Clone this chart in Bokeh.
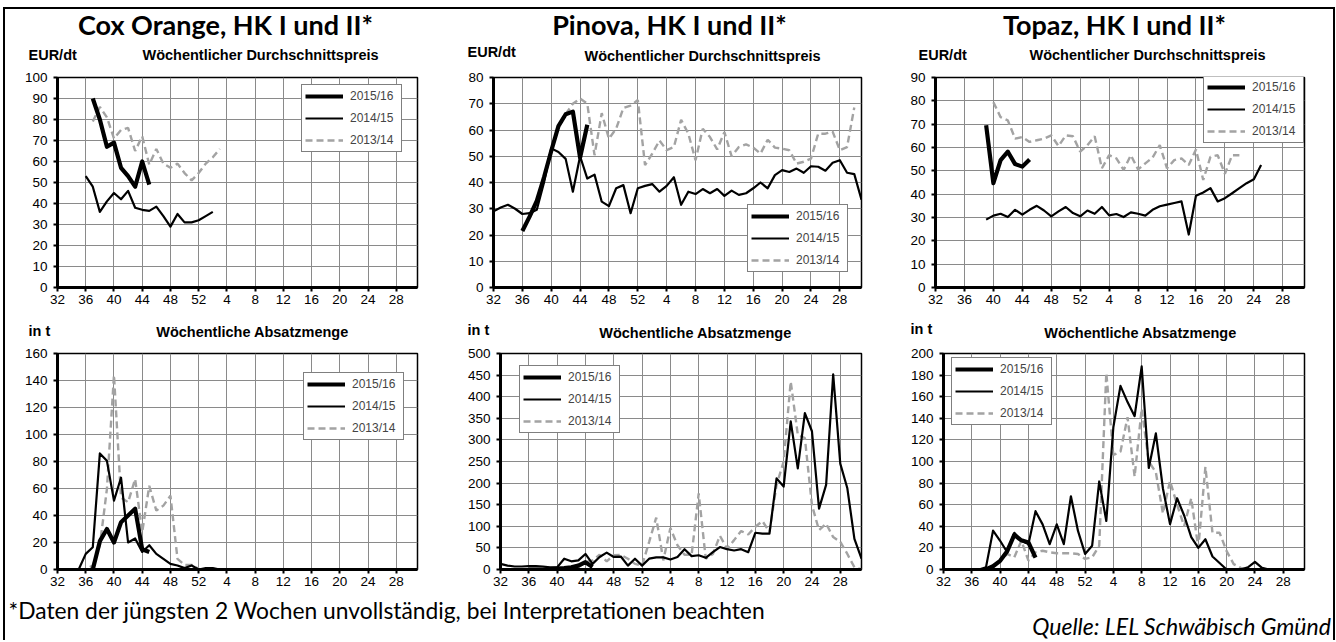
from bokeh.plotting import figure
from bokeh.models import FixedTicker, Range1d, Label, Legend, LegendItem, Spacer
from bokeh.layouts import row, column
from bokeh.embed import file_html
from bokeh.resources import INLINE

# ---------------- data ----------------
# season weeks: 32..52 of the first year, then 1..31 of the next year
SEASON_WEEKS = list(range(32, 53)) + list(range(1, 32))
X_TICK_WEEKS = [32, 36, 40, 44, 48, 52, 4, 8, 12, 16, 20, 24, 28]
SERIES_NAMES = ["2015/16", "2014/15", "2013/14"]

# Cox Orange - weekly average price (EUR/dt)
cox_price_1516_start = 37
cox_price_1516 = [90, 80, 67, 69, 57, 53, 48, 60, 49]
cox_price_1415_start = 36
cox_price_1415 = [53, 48, 36, 41, 45, 42, 46, 38, 37, 36.5, 38.5, 34, 29, 35, 31, 31, 32, 34, 36]
cox_price_1314_start = 37
cox_price_1314 = [79, 86, 81, 71, 75, 76, 65, 72, 58.5, 66, 59, 57, 59, 54.5, 51, 54.5, 59, 62, 66]

# Pinova - weekly average price
pin_price_1516_start = 36
pin_price_1516 = [21.5, 27, 33, 42, 52, 61.5, 66, 67, 49.5, 62]
pin_price_1415_start = 32
pin_price_1415 = [29, 30.5, 31.5, 30, 28, 28.3, 29.6, 40, 53, 51.6, 49, 36.5, 50, 41.5, 43, 32.7,
                  31, 37.8, 39, 28.3, 37.8, 38.7, 39.4, 36.5, 38.7, 42, 31.5, 36.5, 35.6, 37.5,
                  35.9, 37.5, 34.9, 36.9, 35.3, 35.9, 37.8, 40, 37.8, 42.8, 44.7, 44, 45.3, 43.7,
                  46.2, 46, 44.5, 47.5, 48.5, 43.7, 43.2, 33.4]
pin_price_1314_start = 42
pin_price_1314 = [66, 70, 72, 70, 50.4, 66.4, 56.7, 60.5, 68.4, 69.3, 71.4, 46.6, 51, 56, 52.3,
                  53.5, 63.9, 58.6, 48.5, 60.5, 57.3, 52.6, 59.2, 50, 53.5, 54.5, 53.3, 51, 56.3,
                  53.3, 52.9, 52.3, 47.2, 47.9, 49.1, 58.6, 58.6, 59.4, 52.3, 53.5, 68.6]

# Topaz - weekly average price
top_price_1516_start = 39
top_price_1516 = [69.5, 44.7, 54.6, 58.2, 52.9, 51.8, 54.9]
top_price_1415_start = 39
top_price_1415 = [29.1, 30.8, 31.6, 30.2, 33.3, 31.2, 33.3, 35, 33, 30.5, 32.6, 34.5, 31.9, 30.5,
                  33, 31.6, 34.5, 30.9, 31.5, 30.2, 32.2, 31.6, 30.8, 33.3, 34.8, 35.5, 36.2,
                  36.9, 22.7, 39.3, 40.7, 42.6, 36.9, 38.3, 40.4, 42.6, 44.7, 46.4, 52.5]
top_price_1314_start = 40
top_price_1314 = [79.4, 73, 71.6, 63.8, 64.5, 62.4, 63.1, 63.8, 65.2, 60.6, 65.2, 64.8, 58.2, 61,
                  64.8, 51.1, 56.7, 55.3, 50.4, 56.7, 50.6, 53.2, 55.7, 61, 51.1, 54.6, 55.3,
                  52.5, 59.1, 46.1, 56, 56.7, 48.7, 56.7, 56.7]

# Cox Orange - weekly sales (t)
cox_qty_1516_start = 37
cox_qty_1516 = [0, 21, 30, 20, 35, 40, 45, 15, 13]
cox_qty_1415_start = 32
cox_qty_1415 = [0, 0, 0, 0, 11.6, 16.5, 86, 80.5, 51, 68, 20, 23, 13, 18, 11.6, 7.9, 4.2, 3, 1, 3,
                0, 1, 1, 0, 0, 0, 0, 0, 0, 0, 0, 0, 0, 0, 0, 0, 0, 0, 0, 0, 0, 0, 0, 0, 0, 0,
                0, 0, 0, 0, 0, 0]
cox_qty_1314_start = 32
cox_qty_1314 = [0, 0, 0, 0, 0, 3, 17.7, 59.6, 144, 53.4, 49.8, 67, 27.6, 62, 43.6, 47.3, 54.7,
                7.9, 3.4, 3.4, 0.5, 0, 0, 0, 0, 0, 0, 0, 0, 0, 0, 0, 0, 0, 0, 0, 0, 0, 0, 0, 0,
                0, 0, 0, 0, 0, 0, 0, 0, 0, 0, 0]

# Pinova - weekly sales
pin_qty_1516_start = 36
pin_qty_1516 = [0, 0, 0, 1, 2, 3, 5, 9, 17, 6]
pin_qty_1415_start = 32
pin_qty_1415 = [13, 9, 7, 7, 8, 8, 7, 5, 5, 25, 19, 21, 36, 13, 29, 39, 29, 30, 9, 25, 9, 25, 28,
                28, 23, 29, 47, 31, 33, 27, 40, 52, 47, 44, 47, 40, 85, 83, 83, 211, 192, 343,
                234, 362, 320, 141, 196, 452, 245, 188, 71, 25]
pin_qty_1314_start = 32
pin_qty_1314 = [0, 0, 0, 0, 0, 0, 0, 0, 0, 0, 2, 5, 17, 21, 34, 19, 33, 34, 25, 13, 9, 64, 120,
                21, 96, 56, 34, 34, 176, 25, 36, 78, 48, 68, 89, 81, 99, 112, 87, 196, 250, 435,
                312, 304, 149, 91, 106, 75, 64, 36, 5, 0]

# Topaz - weekly sales
top_qty_1516_start = 38
top_qty_1516 = [0, 3, 8, 17, 32, 27, 25, 11]
top_qty_1415_start = 32
top_qty_1415 = [0, 0, 0, 0, 0, 0, 2, 36, 26.6, 16, 34, 26.6, 23.5, 54, 41.8, 23.5, 41.8, 23.5,
                67.8, 35.7, 14.4, 22, 81.5, 44.9, 132, 170, 155, 142, 188, 94, 126, 75, 42, 66,
                50, 30, 20, 28, 12, 6, 0, 0, 0, 2, 7, 1.5, 0, 0, 0, 0, 0, 0]
top_qty_1314_start = 32
top_qty_1314 = [0, 0, 0, 0, 0, 0, 0, 2.7, 8.2, 14.4, 11.3, 26.6, 8.2, 15.9, 17.4, 15.9, 15, 15,
                15, 14.4, 9.8, 11.3, 22, 182, 106, 109, 141, 86, 149, 100, 90, 52, 82, 60, 40,
                66, 20, 95, 34, 34, 17, 5, 1.5, 0, 0, 0, 0, 0, 0, 0, 0, 0]

# ---------------- helpers ----------------
def week_pos(w):
    """position on the season axis (week 1 of next year follows week 52)"""
    return w if w >= 32 else w + 52


def xs_for(start_week, values):
    i0 = SEASON_WEEKS.index(start_week)
    return [week_pos(w) for w in SEASON_WEEKS[i0:i0 + len(values)]]


X_TICKS = [week_pos(w) for w in X_TICK_WEEKS]
X_LABELS = {week_pos(w): str(w) for w in X_TICK_WEEKS}

AXIS_FONT = "Liberation Sans"
TITLE_FONT = "Lato"
GRID = "#8a8a8a"
GRAY = "#a3a3a3"


def panel(width, height, bl, br, bt, bb, ymax, ystep, series, legend_xy):
    p = figure(width=width, height=height, x_range=Range1d(32, 83), y_range=Range1d(0, ymax),
               output_backend="svg", toolbar_location=None,
               min_border_left=bl, min_border_right=br, min_border_top=bt, min_border_bottom=bb)
    p.background_fill_color = "white"
    p.border_fill_color = "white"
    p.outline_line_color = "black"
    p.outline_line_width = 1.5

    yt = list(range(0, ymax + 1, ystep))
    p.xaxis.ticker = FixedTicker(ticks=X_TICKS)
    p.xaxis.major_label_overrides = X_LABELS
    p.yaxis.ticker = FixedTicker(ticks=yt)
    p.xgrid.ticker = FixedTicker(ticks=X_TICKS)
    p.ygrid.ticker = FixedTicker(ticks=yt)
    p.grid.grid_line_color = GRID
    p.grid.grid_line_width = 1

    for ax in (p.xaxis[0], p.yaxis[0]):
        ax.axis_line_color = "black"
        ax.axis_line_width = 3
        ax.major_tick_line_color = "black"
        ax.major_tick_line_width = 2
        ax.major_tick_in = 0
        ax.major_tick_out = 4
        ax.minor_tick_line_color = None
        ax.major_label_text_font = AXIS_FONT
        ax.major_label_text_font_size = "13.5px"
        ax.major_label_text_color = "black"
    p.xaxis.major_label_standoff = 3
    p.yaxis.major_label_standoff = 6

    (s16, v16), (s15, v15), (s14, v14) = series
    r14 = p.line(xs_for(s14, v14), v14, line_color=GRAY, line_width=2.4, line_dash="7 4")
    r15 = p.line(xs_for(s15, v15), v15, line_color="black", line_width=2.2, line_join="round")
    r16 = p.line(xs_for(s16, v16), v16, line_color="black", line_width=4.2, line_join="round")

    legend = Legend(items=[LegendItem(label=SERIES_NAMES[0], renderers=[r16]),
                           LegendItem(label=SERIES_NAMES[1], renderers=[r15]),
                           LegendItem(label=SERIES_NAMES[2], renderers=[r14])],
                    location=legend_xy)
    legend.border_line_color = "black"
    legend.border_line_width = 1.2
    legend.background_fill_color = "white"
    legend.background_fill_alpha = 1
    legend.label_text_font = AXIS_FONT
    legend.label_text_font_size = "12px"
    legend.glyph_width = 38
    legend.glyph_height = 16
    legend.label_height = 16
    legend.label_width = 48
    legend.label_standoff = 7
    legend.spacing = 6
    legend.padding = 3
    legend.margin = 0
    p.add_layout(legend)
    return p


def text_strip(width, height, texts):
    f = figure(width=width, height=height, x_range=Range1d(0, 1), y_range=Range1d(0, 1),
               x_axis_type=None, y_axis_type=None, output_backend="svg",
               toolbar_location=None, min_border=0)
    f.grid.visible = False
    f.outline_line_color = None
    f.border_fill_color = "white"
    for (txt, sx, sy, size, font, style, align) in texts:
        f.add_layout(Label(x=sx, y=sy, x_units="screen", y_units="screen", text=txt,
                           text_font=font, text_font_size=size, text_font_style=style,
                           text_align=align, text_baseline="middle", text_color="black"))
    return f


P_UNIT = "EUR/dt"
P_SUB = "Wöchentlicher Durchschnittspreis"
Q_UNIT = "in t"
Q_SUB = "Wöchentliche Absatzmenge"
B = "bold"
TS = "27px"
LS = "14.5px"

head_top = text_strip(1328, 58, [
    ("Cox Orange, HK I und II*", 220, 43.5, TS, TITLE_FONT, B, "center"),
    ("Pinova, HK I und II*", 664, 43.5, TS, TITLE_FONT, B, "center"),
    ("Topaz, HK I und II*", 1109, 43.5, TS, TITLE_FONT, B, "center"),
    (P_UNIT, 23, 12.5, LS, AXIS_FONT, B, "left"),
    (P_UNIT, 462, 15.5, LS, AXIS_FONT, B, "left"),
    (P_UNIT, 913, 12.5, LS, AXIS_FONT, B, "left"),
    (P_SUB, 255, 12.5, LS, AXIS_FONT, B, "center"),
    (P_SUB, 697, 12, LS, AXIS_FONT, B, "center"),
    (P_SUB, 1142, 12.5, LS, AXIS_FONT, B, "center"),
])
head_bot = text_strip(1328, 33, [
    (Q_UNIT, 23, 12.5, LS, AXIS_FONT, B, "left"),
    (Q_UNIT, 462, 13.5, LS, AXIS_FONT, B, "left"),
    (Q_UNIT, 905, 15, LS, AXIS_FONT, B, "left"),
    (Q_SUB, 247, 12, LS, AXIS_FONT, B, "center"),
    (Q_SUB, 690, 11, LS, AXIS_FONT, B, "center"),
    (Q_SUB, 1135, 11, LS, AXIS_FONT, B, "center"),
])
foot = text_strip(1328, 44, [
    ("*Daten der jüngsten 2 Wochen unvollständig, bei Interpretationen beachten",
     3, 30.5, "22.8px", TITLE_FONT, "normal", "left"),
    ("Quelle: LEL Schwäbisch Gmünd", 1326, 14.5, "23px", TITLE_FONT, "italic", "right"),
])

p1 = panel(440, 243, 52, 28, 10, 23, 100, 10,
           [(cox_price_1516_start, cox_price_1516), (cox_price_1415_start, cox_price_1415),
            (cox_price_1314_start, cox_price_1314)], (244, 135))
p2 = panel(445, 243, 48, 29, 10, 23, 80, 10,
           [(pin_price_1516_start, pin_price_1516), (pin_price_1415_start, pin_price_1415),
            (pin_price_1314_start, pin_price_1314)], (254, 15))
p3 = panel(443, 243, 45, 29, 10, 23, 90, 10,
           [(top_price_1516_start, top_price_1516), (top_price_1415_start, top_price_1415),
            (top_price_1314_start, top_price_1314)], (268, 144))
p4 = panel(440, 253, 52, 28, 10, 27, 160, 20,
           [(cox_qty_1516_start, cox_qty_1516), (cox_qty_1415_start, cox_qty_1415),
            (cox_qty_1314_start, cox_qty_1314)], (246, 129))
p5 = panel(445, 253, 55, 29, 10, 27, 500, 50,
           [(pin_qty_1516_start, pin_qty_1516), (pin_qty_1415_start, pin_qty_1415),
            (pin_qty_1314_start, pin_qty_1314)], (19, 136))
p6 = panel(443, 253, 53, 29, 10, 27, 200, 20,
           [(top_qty_1516_start, top_qty_1516), (top_qty_1415_start, top_qty_1415),
            (top_qty_1314_start, top_qty_1314)], (8, 144))

BLACK = {"background-color": "black"}
body = column(head_top, row(p1, p2, p3), head_bot, row(p4, p5, p6), foot)
top_blank = Spacer(width=1335, height=7)
top_bar = row(Spacer(width=3, height=2), Spacer(width=1332, height=2, styles=BLACK))
middle = row(Spacer(width=3, height=631), Spacer(width=2, height=631, styles=BLACK), body,
             Spacer(width=2, height=631, styles=BLACK))
layout = column(top_blank, top_bar, middle)

open("out.html", "w").write(file_html(layout, INLINE))
